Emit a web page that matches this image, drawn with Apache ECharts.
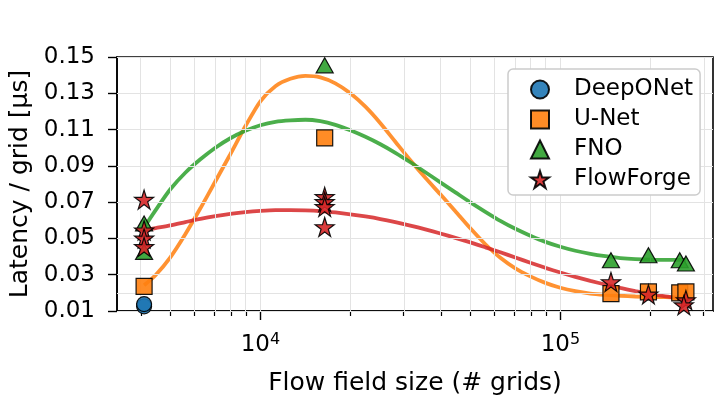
<!DOCTYPE html>
<html>
<head>
<meta charset="utf-8">
<script src="https://cdn.jsdelivr.net/npm/echarts@6/dist/echarts.min.js"></script>
<style>
  html, body { margin: 0; padding: 0; background: #fff; }
  #chart { width: 721px; height: 403px; }
</style>
</head>
<body>
<div id="chart"></div>
<script>
// measured points (grid size, latency per grid in us)
var deeponetPts = [[4096, 0.0126], [4096, 0.0138]];
var unetPts = [[4096, 0.0236], [16384, 0.1054], [147456, 0.0196], [196608, 0.0205], [250000, 0.0200], [262144, 0.0205]];
var fnoPts = [[4096, 0.0582], [4096, 0.0426], [16384, 0.1454], [147456, 0.0380], [196608, 0.0407], [250000, 0.0380], [262144, 0.0362]];
var flowforgePts = [[4096, 0.0714], [4096, 0.0545], [4096, 0.0500], [4096, 0.0453],
                    [16384, 0.0729], [16384, 0.0701], [16384, 0.0674], [16384, 0.0563],
                    [147456, 0.0260], [196608, 0.0192], [262144, 0.0160], [258000, 0.0132]];

// fitted trend curves, read at these grid sizes
var curveN = [4096, 4470, 5010, 5620, 6310, 7080, 7940, 8910, 10000, 11220,
              12590, 14130, 15850, 17780, 19950, 22390, 25120, 28180, 31620, 35480,
              39810, 44670, 50120, 56230, 63100, 70790, 79430, 89130, 100000, 112200,
              125900, 141300, 158500, 177800, 199500, 223900, 251200, 262144];
var unetCurve = [0.0242, 0.0297, 0.0396, 0.0523, 0.0666, 0.0815, 0.0964, 0.1118, 0.1256, 0.1339,
                 0.1380, 0.1396, 0.1388, 0.1355, 0.1300, 0.1226, 0.1135, 0.1033, 0.0931, 0.0834,
                 0.0743, 0.0650, 0.0556, 0.0468, 0.0393, 0.0335, 0.0291, 0.0255, 0.0228, 0.0209,
                 0.0196, 0.0189, 0.0184, 0.0180, 0.0177, 0.0176, 0.0174, 0.0174];
var fnoCurve = [0.0561, 0.0655, 0.0771, 0.0862, 0.0936, 0.1000, 0.1052, 0.1093, 0.1124, 0.1143,
                0.1151, 0.1154, 0.1146, 0.1126, 0.1096, 0.1060, 0.1019, 0.0972, 0.0920, 0.0865,
                0.0809, 0.0754, 0.0699, 0.0647, 0.0597, 0.0553, 0.0515, 0.0481, 0.0454, 0.0432,
                0.0415, 0.0402, 0.0392, 0.0386, 0.0383, 0.0382, 0.0382, 0.0382];
var flowforgeCurve = [0.0545, 0.0557, 0.0572, 0.0590, 0.0608, 0.0623, 0.0635, 0.0645, 0.0652, 0.0656,
                      0.0656, 0.0655, 0.0651, 0.0643, 0.0633, 0.0621, 0.0607, 0.0590, 0.0571, 0.0550,
                      0.0527, 0.0503, 0.0478, 0.0451, 0.0424, 0.0395, 0.0366, 0.0338, 0.0312, 0.0288,
                      0.0266, 0.0246, 0.0227, 0.0210, 0.0194, 0.0181, 0.0171, 0.0168];

var yTicks = [0.01, 0.02, 0.03, 0.05, 0.07, 0.09, 0.11, 0.13, 0.15];
var xMajor = [10000, 100000];
var xMinor = [4000, 5000, 6000, 7000, 8000, 9000, 20000, 30000, 40000, 50000, 60000, 70000, 80000, 90000, 200000, 300000];

var legendNames = ['DeepONet', 'U-Net', 'FNO', 'FlowForge'];

var STAR = 'path://M50,0 L61.23,34.55 L97.55,34.55 L68.16,55.9 L79.39,90.45 L50,69.1 L20.61,90.45 L31.84,55.9 L2.45,34.55 L38.77,34.55 Z';
var FONT = 'DejaVu Sans';
var GRIDC = '#e3e3e3';

function lg(v) { return Math.log10(v); }
function toLog(pts) { return pts.map(function (p) { return [lg(p[0]), p[1]]; }); }
function curve(vals) { return vals.map(function (v, i) { return [lg(curveN[i]), v]; }); }

// matplotlib-like 5% margin in log space
var lo = lg(4096), hi = lg(262144);
var xMin = lo - 0.05 * (hi - lo), xMax = hi + 0.05 * (hi - lo);

var chart = echarts.init(document.getElementById('chart'));

function scatter(name, pts, color, symbol, size) {
    return {
        name: name,
        type: 'scatter',
        data: toLog(pts),
        symbol: symbol,
        symbolSize: size,
        z: 5,
        itemStyle: { color: color, borderColor: '#000', borderWidth: 1.2, opacity: 0.9 }
    };
}
function fitLine(name, vals, color) {
    return {
        name: name,
        type: 'line',
        data: curve(vals),
        smooth: 0.25,
        showSymbol: false,
        z: 2,
        lineStyle: { color: color, width: 3.8, opacity: 0.85 }
    };
}

// grid lines (major + minor x, listed y ticks)
var gridLines = xMajor.concat(xMinor).map(function (v) { return { xAxis: lg(v) }; })
    .concat(yTicks.map(function (v) { return { yAxis: v }; }));

var option = {
    animation: false,
    backgroundColor: '#fff',
    textStyle: { fontFamily: FONT },
    grid: {
        left: 117, right: 8, top: 57, bottom: 92,
        outerBoundsMode: 'none',
        show: true, borderColor: '#000', borderWidth: 1.6, backgroundColor: 'transparent'
    },
    legend: {
        data: legendNames,
        orient: 'vertical',
        left: 508, top: 69,
        z: 10,
        padding: [9, 7, 4, 22],
        itemWidth: 18, itemHeight: 18, itemGap: 7,
        backgroundColor: '#fff',
        borderColor: '#cccccc', borderWidth: 1.5, borderRadius: 5,
        textStyle: { fontFamily: FONT, fontSize: 23, color: '#000', padding: [0, 0, 0, 20] }
    },
    xAxis: [{
        type: 'value',
        min: xMin, max: xMax,
        name: 'Flow field size (# grids)',
        nameLocation: 'middle',
        nameGap: 60,
        nameMoveOverlap: false,
        nameTextStyle: { fontFamily: FONT, fontSize: 25, color: '#000' },
        axisLine: { show: true, lineStyle: { color: '#000', width: 1.6 } },
        axisTick: { show: true, length: 9, lineStyle: { color: '#000', width: 1.4 }, customValues: xMajor.map(lg) },
        axisLabel: {
            customValues: xMajor.map(lg),
            margin: 21,
            formatter: function (v) { return '{b|10}{s|' + Math.round(v) + '}'; },
            rich: {
                b: { fontFamily: FONT, fontSize: 23, color: '#000', lineHeight: 26 },
                s: { fontFamily: FONT, fontSize: 16, color: '#000', lineHeight: 16, verticalAlign: 'top' }
            }
        },
        splitLine: { show: false }
    }, {
        type: 'value',
        min: xMin, max: xMax,
        position: 'bottom',
        axisLine: { show: false },
        axisTick: { show: true, length: 5, lineStyle: { color: '#000', width: 1.2 }, customValues: xMinor.map(lg) },
        axisLabel: { show: false, customValues: xMinor.map(lg) },
        splitLine: { show: false }
    }],
    yAxis: {
        type: 'value',
        min: 0.01, max: 0.15, interval: 0.01,
        name: 'Latency / grid [μs]',
        nameLocation: 'middle',
        nameGap: 84,
        nameMoveOverlap: false,
        nameTextStyle: { fontFamily: FONT, fontSize: 25, color: '#000' },
        axisLine: { show: true, lineStyle: { color: '#000', width: 1.6 } },
        axisTick: { show: true, length: 9, lineStyle: { color: '#000', width: 1.4 }, customValues: yTicks },
        axisLabel: {
            customValues: yTicks,
            margin: 22,
            showMinLabel: true,
            hideOverlap: false,
            fontFamily: FONT, fontSize: 23, color: '#000',
            formatter: function (v) { return v.toFixed(2); }
        },
        splitLine: { show: false }
    },
    series: [
        {
            name: 'grid',
            type: 'line',
            data: [],
            z: 1,
            silent: true,
            markLine: {
                silent: true,
                symbol: 'none',
                label: { show: false },
                animation: false,
                lineStyle: { color: GRIDC, width: 1, type: 'solid' },
                data: gridLines
            }
        },
        fitLine('U-Net fit', unetCurve, '#ff7f0e'),
        fitLine('FNO fit', fnoCurve, '#2ca02c'),
        fitLine('FlowForge fit', flowforgeCurve, '#d62728'),
        scatter('DeepONet', deeponetPts, '#1f77b4', 'circle', 15),
        scatter('U-Net', unetPts, '#ff7f0e', 'rect', 16),
        scatter('FNO', fnoPts, '#2ca02c', 'triangle', [17, 15]),
        scatter('FlowForge', flowforgePts, '#d62728', STAR, 19)
    ]
};

chart.setOption(option);
</script>
</body>
</html>
